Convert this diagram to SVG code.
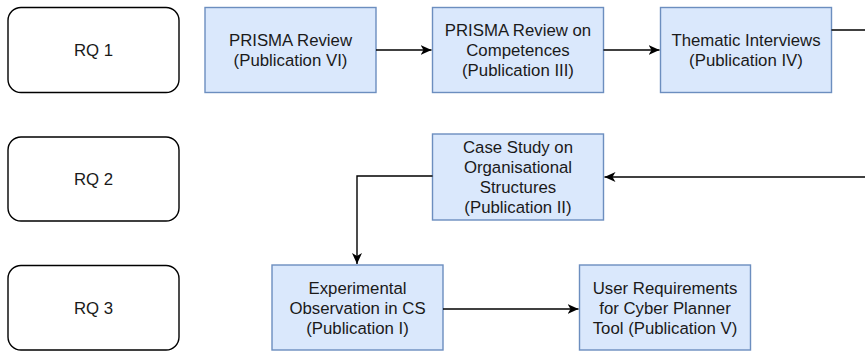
<svg xmlns="http://www.w3.org/2000/svg" width="865" height="351" viewBox="0 0 865 351">
<style>
.rq{fill:#ffffff;stroke:#000000;stroke-width:1.4}
.box{fill:#dae8fc;stroke:#6c8ebf;stroke-width:1.4}
text{font-family:"Liberation Sans",Arial,sans-serif;font-size:16.8px;fill:#1a1a1a;text-anchor:middle}
.edge{fill:none;stroke:#000000;stroke-width:1.4}
</style>
<defs>
<marker id="arr" markerWidth="12" markerHeight="10" refX="11" refY="5" orient="auto" markerUnits="userSpaceOnUse">
<path d="M0,0 L11,5 L0,10 L3,5 Z" fill="#000000"/>
</marker>
</defs>
<rect width="865" height="351" fill="#ffffff"/>
<g id="rq1"><rect class="rq" x="8" y="7.5" width="171" height="85" rx="13"/><text x="93.5" y="56">RQ 1</text></g>
<g id="rq2"><rect class="rq" x="8" y="137" width="171" height="84" rx="13"/><text x="93.5" y="185">RQ 2</text></g>
<g id="rq3"><rect class="rq" x="8" y="265.5" width="171" height="84.5" rx="13"/><text x="93.5" y="314">RQ 3</text></g>
<g id="prisma"><rect class="box" x="205" y="7.5" width="171" height="85"/><text x="290.5" y="46">PRISMA Review</text><text x="290.5" y="66">(Publication VI)</text></g>
<g id="competences"><rect class="box" x="432.5" y="7.5" width="171" height="85"/><text x="518" y="36">PRISMA Review on</text><text x="518" y="56">Competences</text><text x="518" y="76">(Publication III)</text></g>
<g id="interviews"><rect class="box" x="660.5" y="7.5" width="171" height="85"/><text x="746" y="46">Thematic Interviews</text><text x="746" y="66">(Publication IV)</text></g>
<g id="casestudy"><rect class="box" x="432.5" y="134" width="171" height="86"/><text x="518" y="153">Case Study on</text><text x="518" y="173">Organisational</text><text x="518" y="193">Structures</text><text x="518" y="213">(Publication II)</text></g>
<g id="experimental"><rect class="box" x="272" y="265" width="171" height="85"/><text x="357.5" y="293.5">Experimental</text><text x="357.5" y="313.5">Observation in CS</text><text x="357.5" y="333.5">(Publication I)</text></g>
<g id="userreq"><rect class="box" x="579.5" y="265" width="171" height="85"/><text x="665" y="293.5">User Requirements</text><text x="665" y="313.5">for Cyber Planner</text><text x="665" y="333.5">Tool (Publication V)</text></g>
<g id="connectors">
<path class="edge" d="M376 50 L431.5 50" marker-end="url(#arr)"/>
<path class="edge" d="M603.5 50 L659.5 50" marker-end="url(#arr)"/>
<path class="edge" d="M831.5 30 L865 30"/>
<path class="edge" d="M865 177 L604.5 177" marker-end="url(#arr)"/>
<path class="edge" d="M432.5 176 L357 176 L357 264" marker-end="url(#arr)"/>
<path class="edge" d="M443 309 L578.5 309" marker-end="url(#arr)"/>
</g>
</svg>
